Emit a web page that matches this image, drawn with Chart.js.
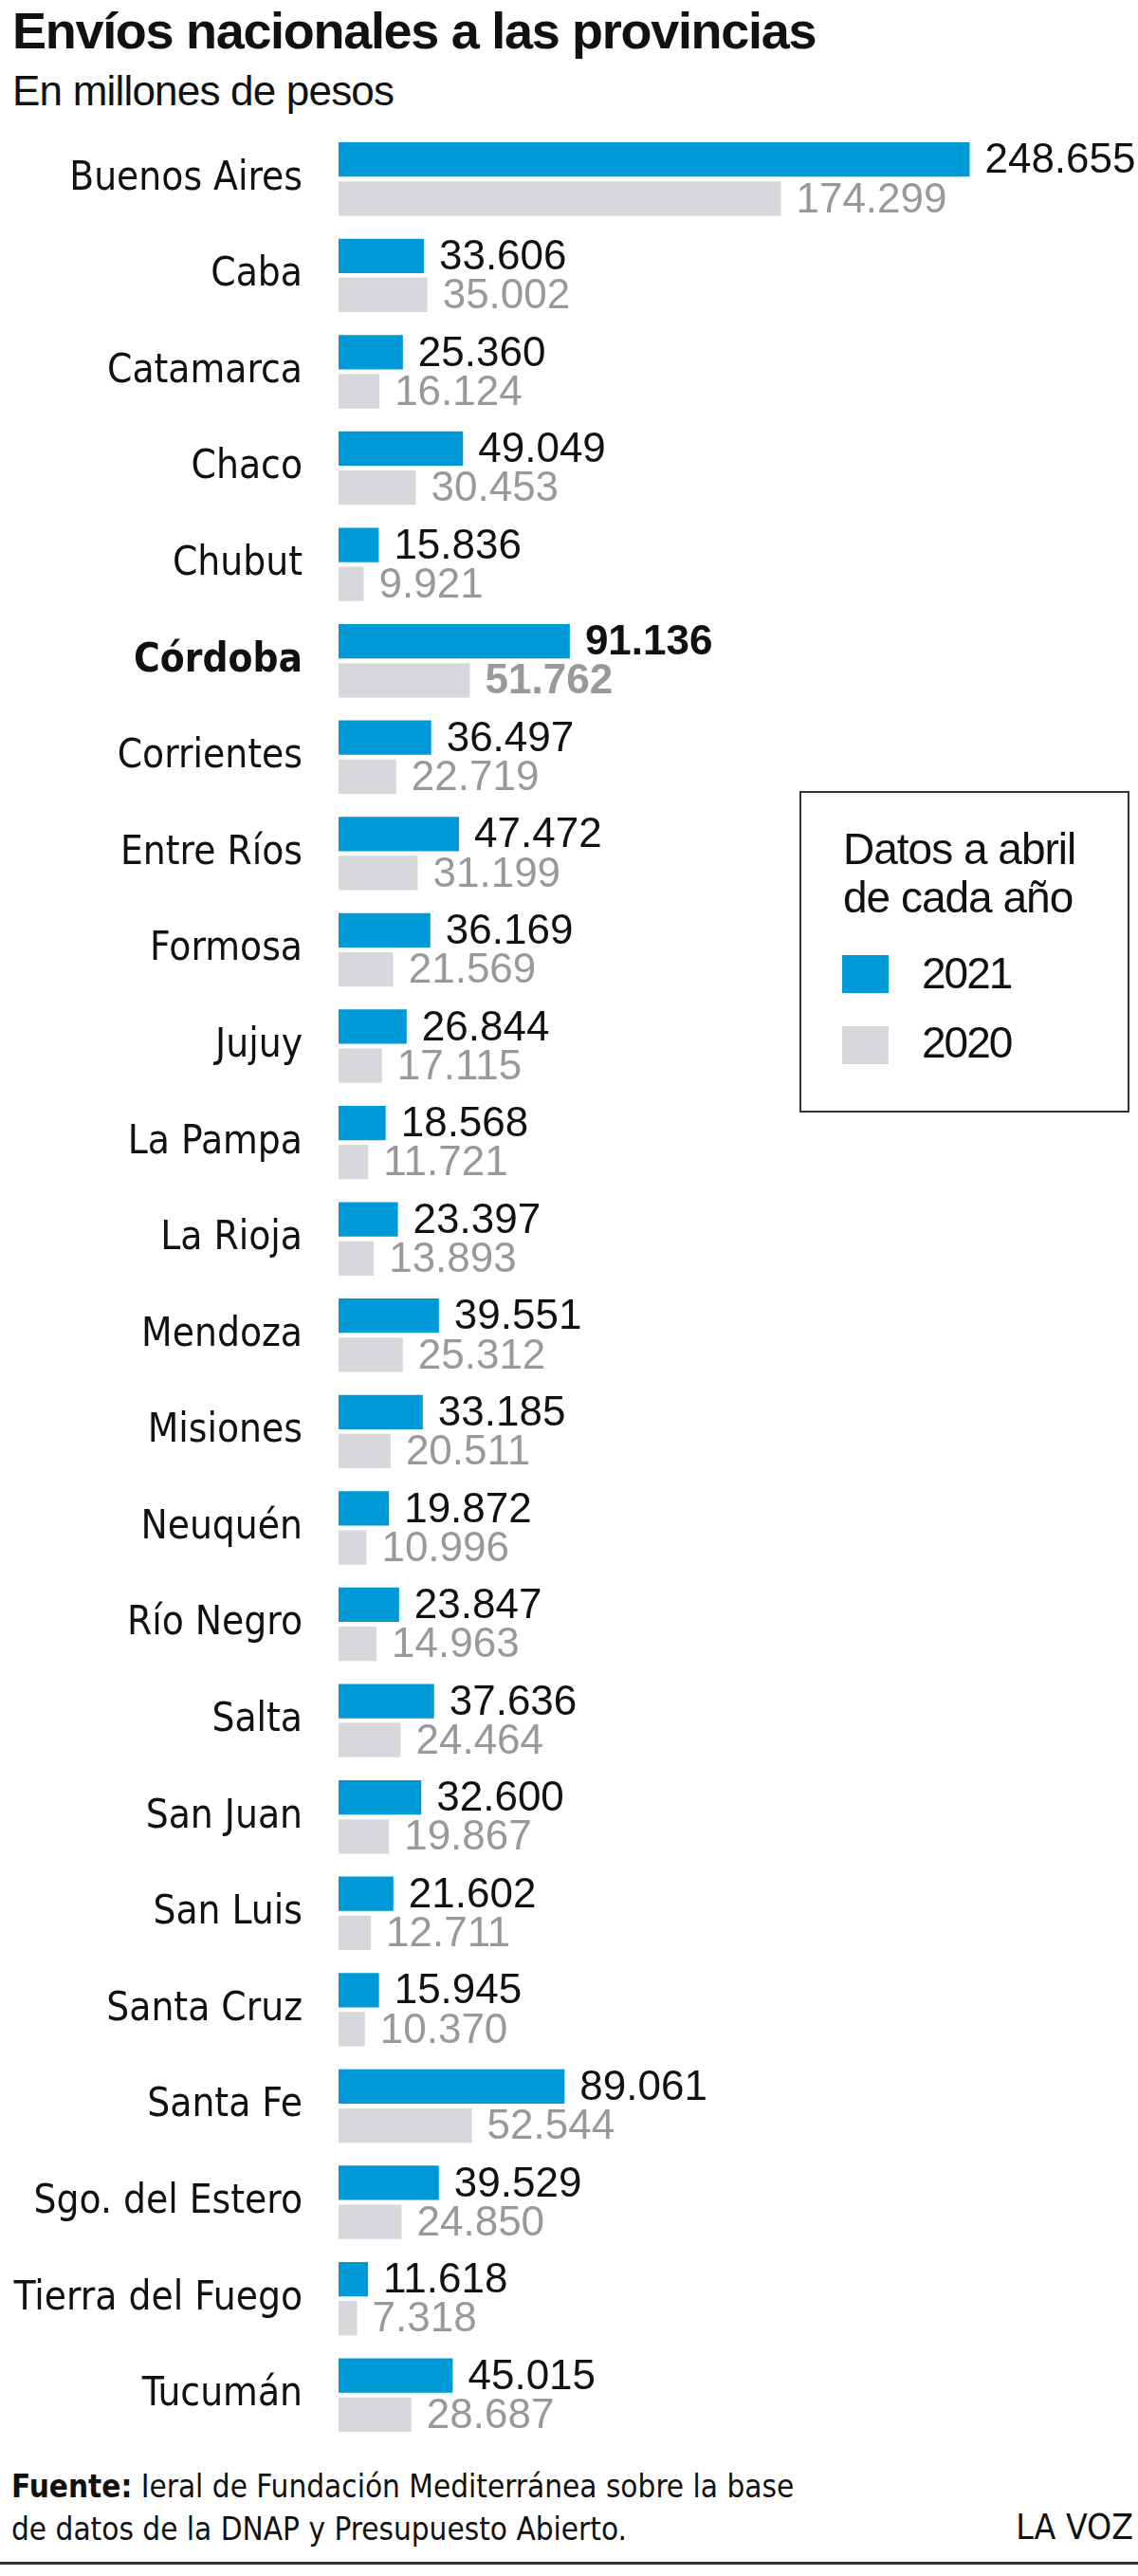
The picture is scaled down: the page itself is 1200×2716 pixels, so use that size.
<!DOCTYPE html>
<html lang="es">
<head>
<meta charset="utf-8">
<title>Envíos nacionales a las provincias</title>
<script src="https://cdn.jsdelivr.net/npm/chart.js@4.4.1/dist/chart.umd.min.js"></script>
<style>
    html, body { margin: 0; padding: 0; background: #fff; }
    body { width: 1200px; height: 2716px; position: relative; overflow: hidden; color: #111; }
    .narrow { font-family: "DejaVu Sans Condensed", sans-serif; }
    #title { position: absolute; left: 13px; top: 0px; font: bold 54px/64px "Liberation Sans", sans-serif; letter-spacing: -1.3px; white-space: nowrap; }
    #subtitle { position: absolute; left: 13px; top: 70px; font: 44px/52px "Liberation Sans", sans-serif; letter-spacing: -0.8px; white-space: nowrap; }
    #chartBox { position: absolute; left: 0; top: 138px; width: 1200px; height: 2438px; }
    #legend { position: absolute; left: 843px; top: 834px; width: 344px; height: 335px; border: 2px solid #333; font-family: "Liberation Sans", sans-serif; }
    #legend .head { position: absolute; left: 44px; top: 34px; font-size: 46px; line-height: 51px; letter-spacing: -1px; white-space: nowrap; }
    #legend .item { position: absolute; left: 127px; font-size: 46px; line-height: 46px; letter-spacing: -2px; }
    #legend .sw { position: absolute; left: 43px; width: 49px; height: 40px; }
    #footer { position: absolute; left: 12px; top: 2599px; font-size: 33px; line-height: 45px; white-space: nowrap; }
    #brand { position: absolute; right: 5px; top: 2645px; font-size: 37px; line-height: 40px; white-space: nowrap; }
    #rule { position: absolute; left: 0; top: 2701px; width: 1200px; height: 3px; background: #333; }
</style>
</head>
<body>
<div id="title">Envíos nacionales a las provincias</div>
<div id="subtitle">En millones de pesos</div>

<div id="chartBox"><canvas id="theChart"></canvas></div>

<div id="legend">
    <div class="head">Datos a abril<br>de cada año</div>
    <div class="sw" style="top:171px; background:#0099d8"></div>
    <div class="item" style="top:167px">2021</div>
    <div class="sw" style="top:246px; background:#d7d8dc"></div>
    <div class="item" style="top:240px">2020</div>
</div>

<div id="footer" class="narrow"><b>Fuente:</b> Ieral de Fundación Mediterránea sobre la base<br>de datos de la DNAP y Presupuesto Abierto.</div>
<div id="brand" class="narrow">LA VOZ</div>
<div id="rule"></div>

<script>
// Datos a abril de cada año, en millones de pesos
const provincias = [
    "Buenos Aires", "Caba", "Catamarca", "Chaco", "Chubut", "Córdoba",
    "Corrientes", "Entre Ríos", "Formosa", "Jujuy", "La Pampa", "La Rioja",
    "Mendoza", "Misiones", "Neuquén", "Río Negro", "Salta", "San Juan",
    "San Luis", "Santa Cruz", "Santa Fe", "Sgo. del Estero", "Tierra del Fuego", "Tucumán"
];
const envios2021 = [
    248655, 33606, 25360, 49049, 15836, 91136,
    36497, 47472, 36169, 26844, 18568, 23397,
    39551, 33185, 19872, 23847, 37636, 32600,
    21602, 15945, 89061, 39529, 11618, 45015
];
const envios2020 = [
    174299, 35002, 16124, 30453, 9921, 51762,
    22719, 31199, 21569, 17115, 11721, 13893,
    25312, 20511, 10996, 14963, 24464, 19867,
    12711, 10370, 52544, 24850, 7318, 28687
];
const destacada = "Córdoba";

const AZUL = "#0099d8";
const GRIS = "#d7d8dc";
const LABEL_FONT = "'DejaVu Sans Condensed', sans-serif";
const VALUE_FONT = "'Liberation Sans', sans-serif";

// Draws the number to the right of every bar
const valueLabels = {
    id: "valueLabels",
    afterDatasetsDraw(chart) {
        const ctx = chart.ctx;
        ctx.save();
        ctx.textBaseline = "middle";
        ctx.textAlign = "left";
        chart.data.datasets.forEach((ds, di) => {
            const meta = chart.getDatasetMeta(di);
            meta.data.forEach((bar, i) => {
                const bold = chart.data.labels[i] === destacada;
                ctx.font = (bold ? "bold " : "") + "44px " + VALUE_FONT;
                ctx.fillStyle = di === 0 ? "#111" : "#999";
                ctx.fillText(ds.data[i].toLocaleString("de-DE"), bar.x + 16, bar.y + 2);
            });
        });
        ctx.restore();
    }
};

const ctx = document.getElementById("theChart");
new Chart(ctx, {
    type: "bar",
    data: {
        labels: provincias,
        datasets: [
            { label: "2021", data: envios2021, backgroundColor: AZUL },
            { label: "2020", data: envios2020, backgroundColor: GRIS }
        ]
    },
    options: {
        indexAxis: "y",
        responsive: true,
        maintainAspectRatio: false,
        animation: false,
        categoryPercentage: 0.81,
        barPercentage: 0.88,
        layout: { padding: 0 },
        scales: {
            x: { display: false, min: 0, max: 315000 },
            y: {
                afterFit: (scale) => {
                    scale.width = 357;
                    // no extra room above/below the first and last label
                    scale.paddingTop = 0;
                    scale.paddingBottom = 0;
                },
                grid: { display: false, drawTicks: false },
                border: { display: false },
                ticks: {
                    padding: 38,
                    color: "#111",
                    font: (c) => ({
                        family: LABEL_FONT,
                        size: 42,
                        weight: provincias[c.index] === destacada ? "bold" : "normal"
                    })
                }
            }
        },
        plugins: {
            legend: { display: false },
            tooltip: { enabled: false }
        }
    },
    plugins: [valueLabels]
});
</script>
</body>
</html>
